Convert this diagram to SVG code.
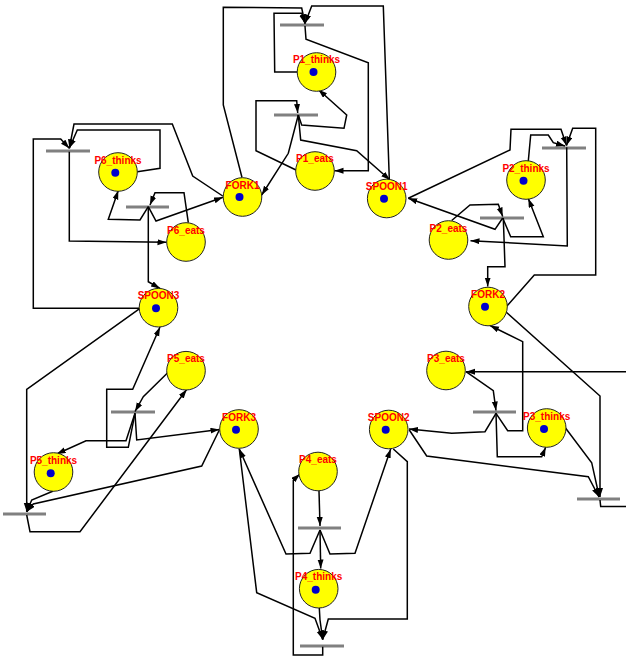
<svg xmlns="http://www.w3.org/2000/svg" width="626" height="659" viewBox="0 0 626 659">
<style>
.bar{stroke:#808080;stroke-width:2.8;fill:none}
.arc{stroke:#000;stroke-width:1.5;fill:none;stroke-linejoin:miter;marker-end:url(#ah)}
.pl{fill:#ffff00;stroke:#222;stroke-width:1}
.tk{fill:#0000cc}
.lb{font-family:"Liberation Sans",Arial,sans-serif;font-size:10px;font-weight:bold;fill:#ff0000;text-anchor:middle}
</style>
<defs>
<marker id="ah" markerUnits="userSpaceOnUse" markerWidth="10" markerHeight="8" refX="9" refY="3" orient="auto">
<path d="M0,0 L9,3 L0,6 z" fill="#000"/>
</marker>
</defs>
<rect width="626" height="659" fill="#fff"/>
<g id="T1"><line class="bar" x1="280" y1="25" x2="324" y2="25"/></g>
<g id="T2"><line class="bar" x1="274" y1="115" x2="318" y2="115"/></g>
<g id="T3"><line class="bar" x1="542" y1="148" x2="586" y2="148"/></g>
<g id="T4"><line class="bar" x1="480" y1="218" x2="524" y2="218"/></g>
<g id="T5"><line class="bar" x1="473" y1="412" x2="516" y2="412"/></g>
<g id="T6"><line class="bar" x1="577" y1="499" x2="620" y2="499"/></g>
<g id="T7"><line class="bar" x1="298" y1="528" x2="341" y2="528"/></g>
<g id="T8"><line class="bar" x1="300" y1="646" x2="344" y2="646"/></g>
<g id="T9"><line class="bar" x1="3" y1="514" x2="46" y2="514"/></g>
<g id="T10"><line class="bar" x1="111" y1="412" x2="155" y2="412"/></g>
<g id="T11"><line class="bar" x1="126" y1="207" x2="169" y2="207"/></g>
<g id="T12"><line class="bar" x1="46" y1="151" x2="90" y2="151"/></g>
<g id="connectors">
<polyline class="arc" points="297,72 274.7,72 274,13.3 301.7,13.3 305,23.5"/>
<polyline class="arc" points="242,177.5 223.3,105 223.3,7.3 301.7,8 305,23.5"/>
<polyline class="arc" points="389.3,179 383.3,6 311.7,6 305,23.5"/>
<polyline class="arc" points="305,26 306,39.3 368.3,62.7 368.3,170.7 334.5,170.7"/>
<polyline class="arc" points="296,170 256,150.7 256,100.7 296.7,100.7 297.7,113"/>
<polyline class="arc" points="298.3,115 301.7,125 344,128.3 346.7,115 318.3,89.5"/>
<polyline class="arc" points="298.3,115 288.3,153.3 261.7,195"/>
<polyline class="arc" points="298.3,115 300.7,140 356.7,150.7 390,180"/>
<polyline class="arc" points="528.3,161 530.7,135 548.3,135 553.3,142.7 565,146"/>
<polyline class="arc" points="408.3,198.3 510,150 511,129.3 561,129.3 566.5,145.5"/>
<polyline class="arc" points="506.5,306.5 534.3,275 595.7,275 595.7,128.3 572.7,128.3 566.5,145.5"/>
<polyline class="arc" points="566.7,147.3 567.3,246 470.5,240.7"/>
<polyline class="arc" points="451.7,220.5 470,205 498.3,204.3 502.7,216.5"/>
<polyline class="arc" points="502.7,218 495,229.3 408.3,198.3"/>
<polyline class="arc" points="502.7,218 510.7,236.7 543.3,236.7 528.3,198.5"/>
<polyline class="arc" points="503.3,218 505,266.7 487.7,266.7 487.7,286.5"/>
<polyline class="arc" points="466,371.7 493.3,390.7 496,410.5"/>
<polyline class="arc" points="496,413.3 507.7,430.7 522.7,430.7 522.7,341.7 490,325.5"/>
<polyline class="arc" points="496,413.3 497.3,456.7 541.7,456.7 545.7,447.3"/>
<polyline class="arc" points="496,413.3 485,431.7 451.7,433.3 409,429"/>
<polyline class="arc" points="565.7,428.3 591.7,462.7 599.3,497"/>
<polyline class="arc" points="506,312 600,396 600,497"/>
<polyline class="arc" points="409.3,430 426.7,456 588.3,476.7 599,497"/>
<polyline class="arc" points="600,500 600.7,506.5 640,506.5 640,371.7 466,371.7"/>
<polyline class="arc" points="319,491 320,526"/>
<polyline class="arc" points="320,530 320.7,568.5"/>
<polyline class="arc" points="320,530 310,553.3 286,554 239.3,449"/>
<polyline class="arc" points="320,530 330,554 355,553.3 390.7,449"/>
<polyline class="arc" points="319.3,608 320,620 322.7,639.5"/>
<polyline class="arc" points="239.3,449 256.7,592.7 315,618.3 322.7,639.5"/>
<polyline class="arc" points="393.3,449 407.3,461.7 407.3,619 328.3,619 322.7,639.5"/>
<polyline class="arc" points="322.7,646.7 322.7,655 293.3,655 293.3,480 300,474"/>
<polyline class="arc" points="53.3,491 31.7,500 26.7,511.7"/>
<polyline class="arc" points="219.3,430 201.7,466 33.3,504 26.7,511.7"/>
<polyline class="arc" points="140,308.3 26.7,389.3 26.7,511.7"/>
<polyline class="arc" points="26.7,515 30,531.7 80,531.7 186.7,389.5"/>
<polyline class="arc" points="167.7,372.7 143.3,396.7 135,411.5"/>
<polyline class="arc" points="135,413.3 128.3,447.3 106.7,447.3 106.7,389.3 132.7,389.3 160,327"/>
<polyline class="arc" points="135,413.3 126,440.7 86,440.7 56.7,454"/>
<polyline class="arc" points="135,413.3 136.7,440 219.5,429.5"/>
<polyline class="arc" points="188.3,222.7 184,192.7 155,192.7 150,205"/>
<polyline class="arc" points="148.3,206.7 140,220 108.3,219.3 118.3,190.5"/>
<polyline class="arc" points="148.3,206.7 156,221 223,197.3"/>
<polyline class="arc" points="148.3,206.7 148.3,281.7 160,288.5"/>
<polyline class="arc" points="137.3,171.7 160,168.3 160,130 77.3,130 69.3,148.3"/>
<polyline class="arc" points="222.7,196 192.7,176 172.3,124 74,124 69.3,148.3"/>
<polyline class="arc" points="140,308.3 33.3,308.3 33.3,139 60.7,139 69.3,148.3"/>
<polyline class="arc" points="69.3,151.7 69.3,241 166.5,242.3"/>
</g>
<g id="P1_thinks"><circle class="pl" cx="316.5" cy="72" r="19.3"/><circle class="tk" cx="313.5" cy="72" r="4"/><text class="lb" x="316.5" y="63">P1_thinks</text></g>
<g id="P1_eats"><circle class="pl" cx="315" cy="171" r="19.3"/><text class="lb" x="315" y="162">P1_eats</text></g>
<g id="FORK1"><circle class="pl" cx="242.5" cy="197" r="19.3"/><circle class="tk" cx="239.5" cy="197" r="4"/><text class="lb" x="242.5" y="188.5">FORK1</text></g>
<g id="SPOON1"><circle class="pl" cx="386.7" cy="198.5" r="19.3"/><circle class="tk" cx="384" cy="198.7" r="4"/><text class="lb" x="386.7" y="190">SPOON1</text></g>
<g id="P2_thinks"><circle class="pl" cx="526" cy="180" r="19.3"/><circle class="tk" cx="523.5" cy="180.7" r="4"/><text class="lb" x="526" y="171.5">P2_thinks</text></g>
<g id="P2_eats"><circle class="pl" cx="448.5" cy="240" r="19.3"/><text class="lb" x="448.5" y="231.5">P2_eats</text></g>
<g id="FORK2"><circle class="pl" cx="488" cy="306.5" r="19.3"/><circle class="tk" cx="485" cy="306.7" r="4"/><text class="lb" x="488" y="298">FORK2</text></g>
<g id="P3_eats"><circle class="pl" cx="446" cy="370.5" r="19.3"/><text class="lb" x="446" y="362">P3_eats</text></g>
<g id="P3_thinks"><circle class="pl" cx="546.7" cy="428" r="19.3"/><circle class="tk" cx="544" cy="429" r="4"/><text class="lb" x="546.7" y="419.5">P3_thinks</text></g>
<g id="SPOON2"><circle class="pl" cx="388.7" cy="429.5" r="19.3"/><circle class="tk" cx="385.7" cy="429.7" r="4"/><text class="lb" x="388.7" y="421">SPOON2</text></g>
<g id="FORK3"><circle class="pl" cx="239" cy="429" r="19.3"/><circle class="tk" cx="236" cy="429.7" r="4"/><text class="lb" x="239" y="420.5">FORK3</text></g>
<g id="P4_eats"><circle class="pl" cx="318" cy="471.5" r="19.3"/><text class="lb" x="318" y="463">P4_eats</text></g>
<g id="P4_thinks"><circle class="pl" cx="318.7" cy="588.7" r="19.3"/><circle class="tk" cx="315.7" cy="589.7" r="4"/><text class="lb" x="318.7" y="580">P4_thinks</text></g>
<g id="P5_eats"><circle class="pl" cx="186" cy="370.7" r="19.3"/><text class="lb" x="186" y="362">P5_eats</text></g>
<g id="P5_thinks"><circle class="pl" cx="53.5" cy="472" r="19.3"/><circle class="tk" cx="50.7" cy="473.3" r="4"/><text class="lb" x="53.5" y="463.5">P5_thinks</text></g>
<g id="SPOON3"><circle class="pl" cx="158.5" cy="307.7" r="19.3"/><circle class="tk" cx="156" cy="308.3" r="4"/><text class="lb" x="158.5" y="299">SPOON3</text></g>
<g id="P6_eats"><circle class="pl" cx="186" cy="242" r="19.3"/><text class="lb" x="186" y="233.5">P6_eats</text></g>
<g id="P6_thinks"><circle class="pl" cx="118" cy="172" r="19.3"/><circle class="tk" cx="115.3" cy="172.7" r="4"/><text class="lb" x="118" y="163.5">P6_thinks</text></g>
</svg>
